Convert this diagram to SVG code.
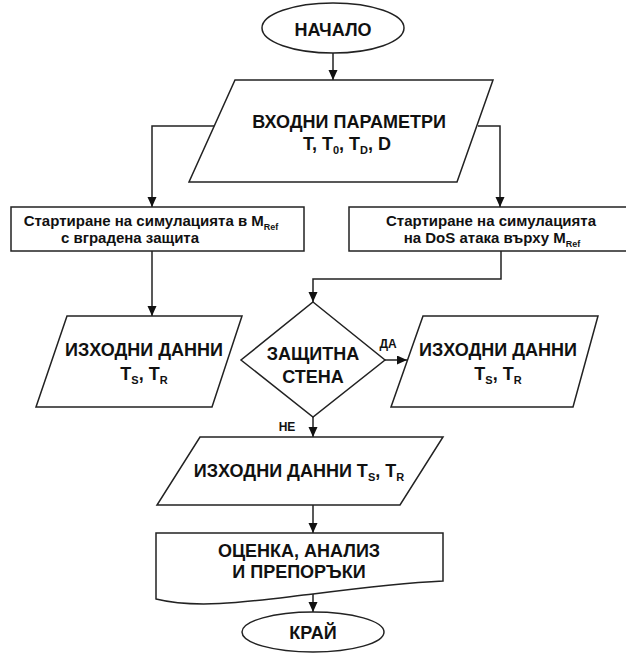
<svg xmlns="http://www.w3.org/2000/svg" width="626" height="653" viewBox="0 0 626 653">
<style>
.s{fill:#fff;stroke:#222;stroke-width:1.5}
.c{fill:none;stroke:#222;stroke-width:1.5}
text{font-family:"Liberation Sans",Arial,sans-serif;font-weight:bold;fill:#111;text-anchor:middle}
.lg{font-size:18px}
.md{font-size:15px}
.sm{font-size:12px}
.sub{font-size:11px}
.sub2{font-size:9px}
</style>
<defs>
<marker id="ah" markerUnits="userSpaceOnUse" markerWidth="10" markerHeight="10" refX="10" refY="4.5" orient="auto">
<path d="M0,0 L10,4.5 L0,9 z" fill="#111"/>
</marker>
</defs>
<g id="connectors">
<path class="c" d="M333,53 V80" marker-end="url(#ah)"/>
<path class="c" d="M215,126 H152 V207" marker-end="url(#ah)"/>
<path class="c" d="M478,126 H500 V207" marker-end="url(#ah)"/>
<path class="c" d="M152,251 V316" marker-end="url(#ah)"/>
<path class="c" d="M501,251 V279 H313 V302" marker-end="url(#ah)"/>
<path class="c" d="M385,360 H407" marker-end="url(#ah)"/>
<path class="c" d="M313,417 V437" marker-end="url(#ah)"/>
<path class="c" d="M313,505 V533" marker-end="url(#ah)"/>
<path class="c" d="M313,594 V612" marker-end="url(#ah)"/>
<text class="sm" x="388" y="348">ДА</text>
<text class="sm" x="287" y="431">НЕ</text>
</g>
<g id="start">
<ellipse class="s" cx="333" cy="28" rx="71" ry="25"/>
<text class="lg" x="333" y="36">НАЧАЛО</text>
</g>
<g id="input">
<polygon class="s" points="235,80 493,80 457,182 189,182"/>
<text class="lg" x="349" y="128">ВХОДНИ ПАРАМЕТРИ</text>
<text class="lg" x="347" y="150">T, T<tspan class="sub" dy="4">0</tspan><tspan dy="-4">, T</tspan><tspan class="sub" dy="4">D</tspan><tspan dy="-4">, D</tspan></text>
</g>
<g id="simDefense">
<rect class="s" x="11" y="207" width="293" height="44"/>
<text class="md" x="151" y="226">Стартиране на симулацията в M<tspan class="sub2" dy="4">Ref</tspan></text>
<text class="md" x="130" y="243">с вградена защита</text>
</g>
<g id="simDoS">
<rect class="s" x="349" y="207" width="290" height="44"/>
<text class="md" x="491" y="226">Стартиране на симулацията</text>
<text class="md" x="492" y="243">на DoS атака върху M<tspan class="sub2" dy="4">Ref</tspan></text>
</g>
<g id="outLeft">
<polygon class="s" points="67,316 242,316 212,407 36,407"/>
<text class="lg" x="144" y="356">ИЗХОДНИ ДАННИ</text>
<text class="lg" x="144" y="380">T<tspan class="sub" dy="4">S</tspan><tspan dy="-4">, T</tspan><tspan class="sub" dy="4">R</tspan></text>
</g>
<g id="firewall">
<polygon class="s" points="313,302 385,360 313,417 241,360"/>
<text class="lg" x="313" y="360">ЗАЩИТНА</text>
<text class="lg" x="313" y="383">СТЕНА</text>
</g>
<g id="outRight">
<polygon class="s" points="423,316 598,316 573,407 391,407"/>
<text class="lg" x="498" y="356">ИЗХОДНИ ДАННИ</text>
<text class="lg" x="498" y="380">T<tspan class="sub" dy="4">S</tspan><tspan dy="-4">, T</tspan><tspan class="sub" dy="4">R</tspan></text>
</g>
<g id="outBottom">
<polygon class="s" points="200,437 443,437 400,505 157,505"/>
<text class="lg" x="299" y="477">ИЗХОДНИ ДАННИ T<tspan class="sub" dy="4">S</tspan><tspan dy="-4">, T</tspan><tspan class="sub" dy="4">R</tspan></text>
</g>
<g id="report">
<path class="s" d="M156,533 H443 V581 C400,583 360,588 313,594 C260,600 200,610 156,599 Z"/>
<text class="lg" x="299" y="557">ОЦЕНКА, АНАЛИЗ</text>
<text class="lg" x="299" y="578">И ПРЕПОРЪКИ</text>
</g>
<g id="end">
<ellipse class="s" cx="313" cy="632" rx="71" ry="20"/>
<text class="lg" x="313" y="639">КРАЙ</text>
</g>
</svg>
